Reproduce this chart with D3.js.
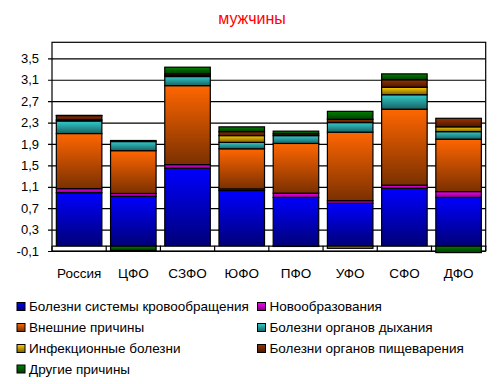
<!DOCTYPE html>
<html>
<head>
<meta charset="utf-8">
<script src="https://cdn.jsdelivr.net/npm/d3@7"></script>
<style>
body { margin: 0; background: #fff; }
svg { font-family: "Liberation Sans", Arial, sans-serif; }
</style>
</head>
<body>
<svg width="500" height="384"></svg>
<script>
var categories = ['Россия', 'ЦФО', 'СЗФО', 'ЮФО', 'ПФО', 'УФО', 'СФО', 'ДФО'];
var seriesNames = ['Болезни системы кровообращения', 'Новообразования', 'Внешние причины',
	'Болезни органов дыхания', 'Инфекционные болезни', 'Болезни органов пищеварения', 'Другие причины'];
var circulation = [0.99, 0.92, 1.446, 1.03, 0.90, 0.79, 1.07, 0.90];
var neoplasms   = [0.075, 0.055, 0.068, 0.03, 0.08, 0.05, 0.06, 0.11];
var external    = [1.03, 0.80, 1.476, 0.75, 0.93, 1.28, 1.42, 0.98];
var respiratory = [0.235, 0.17, 0.17, 0.12, 0.146, 0.18, 0.27, 0.14];
var infectious  = [0.02, 0, 0.02, 0.126, -0.015, -0.05, 0.14, 0.09];
var digestive   = [0.08, 0.02, 0.03, 0.074, 0.034, 0.06, 0.14, 0.16];
var other       = [0.005, -0.09, 0.125, 0.09, 0.05, 0.15, 0.11, -0.13];
var yTicks = [-0.1, 0.3, 0.7, 1.1, 1.5, 1.9, 2.3, 2.7, 3.1, 3.5];

var colors = ['#0000ff', '#ff00ff', '#ff6600', '#33cccc', '#ffcc00', '#993300', '#008000'];
var darks  = ['#000078', '#7a007a', '#7a3000', '#186262', '#7a6000', '#4a1800', '#003c00'];

var svg = d3.select('svg');
var margin = {top: 42.3, right: 14.3, bottom: 133, left: 52};
var width = 500 - margin.left - margin.right,
	height = 384 - margin.top - margin.bottom;

var defs = svg.append('defs');
colors.forEach(function(c, i) {
	var gr = defs.append('linearGradient')
		.attr('id', 'gr' + i)
		.attr('x1', 0).attr('y1', 0).attr('x2', 0).attr('y2', 1);
	gr.append('stop').attr('offset', '0%').attr('stop-color', c);
	gr.append('stop').attr('offset', '100%').attr('stop-color', darks[i]);
});

// table for d3.stack
var rows = categories.map(function(c, i) {
	return {cat: c, s0: circulation[i], s1: neoplasms[i], s2: external[i], s3: respiratory[i],
		s4: infectious[i], s5: digestive[i], s6: other[i]};
});
var keys = ['s0', 's1', 's2', 's3', 's4', 's5', 's6'];
var stacked = d3.stack().keys(keys).offset(d3.stackOffsetDiverging)(rows);

var x = d3.scaleBand()
	.domain(categories)
	.range([0, width])
	.paddingInner(0.16)
	.paddingOuter(0.08);

var y = d3.scaleLinear()
	.domain([-0.1, 3.8])
	.range([height, 0]);

var g = svg.append('g').attr('transform', 'translate(' + margin.left + ',' + margin.top + ')');

// grid lines + value axis
g.append('g')
	.call(d3.axisLeft(y).tickValues(yTicks).tickSize(-width - 4).tickPadding(9)
		.tickFormat(function(d) { return d3.format('.1f')(d).replace('.', ',').replace('−', '-'); }))
	.attr('transform', 'translate(-4,0)')
	.call(function(a) {
		a.select('.domain').remove();
		a.selectAll('line').attr('stroke', '#000').attr('stroke-width', 1.2);
		a.selectAll('text').attr('font-size', 13).attr('fill', '#000');
	});

// plot border
g.append('rect')
	.attr('x', 0).attr('y', 0)
	.attr('width', width).attr('height', height)
	.attr('fill', 'none')
	.attr('stroke', '#000')
	.attr('stroke-width', 1.2);

// bars
stacked.forEach(function(s, i) {
	g.append('g').selectAll('rect')
		.data(s)
		.enter().append('rect')
		.attr('x', function(d) { return x(d.data.cat); })
		.attr('width', x.bandwidth())
		.attr('y', function(d) { return y(Math.max(d[0], d[1])); })
		.attr('height', function(d) { return Math.abs(y(d[0]) - y(d[1])); })
		.attr('fill', 'url(#gr' + i + ')')
		.attr('stroke', '#000')
		.attr('stroke-width', 1.2);
});

// category axis at zero
var xAxis = g.append('g')
	.attr('transform', 'translate(0,' + y(0) + ')')
	.call(d3.axisBottom(x).tickSize(0).tickPadding(23));
xAxis.select('.domain').attr('stroke', '#000').attr('stroke-width', 1.2);
xAxis.selectAll('text').attr('font-size', 13.5).attr('fill', '#000');
var bounds = d3.range(categories.length + 1).map(function(i) { return i * x.step(); });
xAxis.selectAll('.sep')
	.data(bounds)
	.enter().append('line')
	.attr('x1', function(d) { return d; }).attr('x2', function(d) { return d; })
	.attr('y1', 0).attr('y2', y(-0.1) - y(0))
	.attr('stroke', '#000')
	.attr('stroke-width', 1.2);

// title
svg.append('text')
	.attr('x', 252).attr('y', 24)
	.attr('text-anchor', 'middle')
	.attr('font-size', 16)
	.attr('fill', '#ff0000')
	.text('мужчины');

// legend
var legX = [17, 257.5], legY = [306.5, 327.5, 348.5, 369];
var leg = svg.append('g').selectAll('g')
	.data(seriesNames)
	.enter().append('g')
	.attr('transform', function(d, i) {
		var col = (i === 6) ? 0 : i % 2;
		var row = Math.floor(i / 2);
		return 'translate(' + legX[col] + ',' + legY[row] + ')';
	});
leg.append('rect')
	.attr('x', 0).attr('y', -4)
	.attr('width', 8).attr('height', 8)
	.attr('fill', function(d, i) { return 'url(#gr' + i + ')'; })
	.attr('stroke', '#000')
	.attr('stroke-width', 1);
leg.append('text')
	.attr('x', 12).attr('y', 0)
	.attr('dy', '0.35em')
	.attr('font-size', 13.5)
	.attr('fill', '#000')
	.text(function(d) { return d; });
</script>
</body>
</html>
